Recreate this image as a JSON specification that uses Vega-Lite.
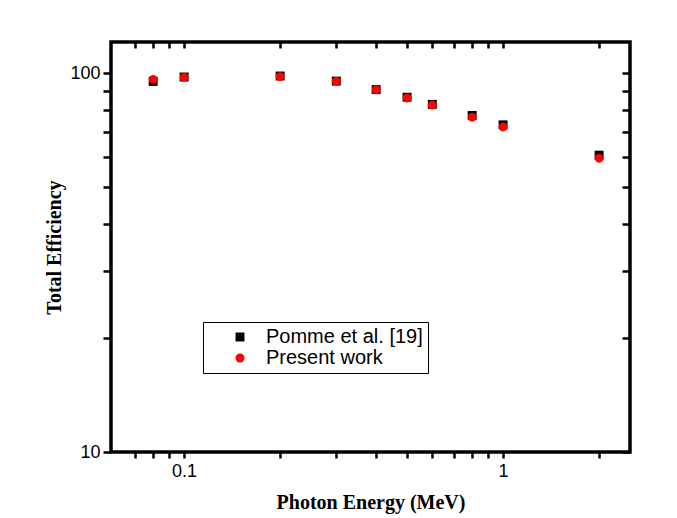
{
  "$schema": "https://vega.github.io/schema/vega-lite/v6.json",
  "width": 519,
  "height": 410,
  "autosize": {"type": "none"},
  "padding": {"left": 111, "top": 42, "right": 47, "bottom": 66},
  "background": "white",
  "config": {
    "view": {"stroke": "black", "strokeWidth": 3.5},
    "font": "Liberation Sans",
    "axis": {"domain": false, "grid": false, "tickColor": "black", "tickWidth": 2.5, "labelColor": "black", "labelFont": "Liberation Sans", "labelFontSize": 18, "titleColor": "black"}
  },
  "data": {
    "values": [
      {"energy": 0.08, "eff": 95.2, "series": "Pomme et al. [19]"},
      {"energy": 0.1, "eff": 97.8, "series": "Pomme et al. [19]"},
      {"energy": 0.2, "eff": 98.4, "series": "Pomme et al. [19]"},
      {"energy": 0.3, "eff": 95.4, "series": "Pomme et al. [19]"},
      {"energy": 0.4, "eff": 90.6, "series": "Pomme et al. [19]"},
      {"energy": 0.5, "eff": 86.5, "series": "Pomme et al. [19]"},
      {"energy": 0.6, "eff": 82.8, "series": "Pomme et al. [19]"},
      {"energy": 0.8, "eff": 77.4, "series": "Pomme et al. [19]"},
      {"energy": 1.0, "eff": 73.1, "series": "Pomme et al. [19]"},
      {"energy": 2.0, "eff": 60.8, "series": "Pomme et al. [19]"},
      {"energy": 0.08, "eff": 96.4, "series": "Present work"},
      {"energy": 0.1, "eff": 97.6, "series": "Present work"},
      {"energy": 0.2, "eff": 98.0, "series": "Present work"},
      {"energy": 0.3, "eff": 95.2, "series": "Present work"},
      {"energy": 0.4, "eff": 90.5, "series": "Present work"},
      {"energy": 0.5, "eff": 86.1, "series": "Present work"},
      {"energy": 0.6, "eff": 82.5, "series": "Present work"},
      {"energy": 0.8, "eff": 76.6, "series": "Present work"},
      {"energy": 1.0, "eff": 72.2, "series": "Present work"},
      {"energy": 2.0, "eff": 59.7, "series": "Present work"}
    ]
  },
  "resolve": {"axis": {"x": "independent", "y": "independent"}},
  "layer": [
    {
      "transform": [{"filter": "datum.series == 'Pomme et al. [19]'"}],
      "mark": {"type": "point", "filled": true, "opacity": 1, "size": 80},
      "encoding": {
        "x": {
          "field": "energy", "type": "quantitative",
          "scale": {"type": "log", "domain": [0.059, 2.5], "nice": false},
          "axis": {
            "orient": "bottom",
            "values": [0.07, 0.08, 0.09, 0.1, 0.2, 0.3, 0.4, 0.5, 0.6, 0.7, 0.8, 0.9, 1, 2],
            "format": "~g",
            "labelExpr": "datum.value == 0.1 || datum.value == 1 ? datum.label : ''",
            "labelFontSize": 18,
            "tickSize": 6, "labelPadding": 4,
            "title": "Photon Energy (MeV)", "titleFont": "Liberation Serif", "titleFontWeight": "bold", "titleFontSize": 20, "titlePadding": 12
          }
        },
        "y": {
          "field": "eff", "type": "quantitative",
          "scale": {"type": "log", "domain": [10, 121], "nice": false},
          "axis": {
            "orient": "left",
            "values": [10, 20, 30, 40, 50, 60, 70, 80, 90, 100],
            "labelExpr": "datum.value == 10 || datum.value == 100 ? datum.label : ''",
            "labelFontSize": 18,
            "tickSize": 8, "labelPadding": 3,
            "title": "Total Efficiency", "titleFont": "Liberation Serif", "titleFontWeight": "bold", "titleFontSize": 20, "titlePadding": 5
          }
        },
        "color": {
          "field": "series", "type": "nominal",
          "scale": {"domain": ["Pomme et al. [19]", "Present work"], "range": ["black", "red"]},
          "legend": {
            "orient": "none", "legendX": 92, "legendY": 280, "title": null,
            "strokeColor": "black", "padding": 5, "fillColor": "white",
            "labelFontSize": 20, "labelFont": "Liberation Sans", "labelColor": "black",
            "symbolSize": 80, "symbolOffset": 22, "labelOffset": 16, "rowPadding": 1
          }
        },
        "shape": {
          "field": "series", "type": "nominal",
          "scale": {"domain": ["Pomme et al. [19]", "Present work"], "range": ["square", "circle"]}
        }
      }
    },
    {
      "transform": [{"filter": "datum.series == 'Present work'"}],
      "mark": {"type": "point", "filled": true, "opacity": 1, "size": 80},
      "encoding": {
        "x": {
          "field": "energy", "type": "quantitative",
          "axis": {
            "orient": "top",
            "values": [0.07, 0.08, 0.09, 0.1, 0.2, 0.3, 0.4, 0.5, 0.6, 0.7, 0.8, 0.9, 1, 2],
            "labels": false, "tickSize": -6, "title": null
          }
        },
        "y": {
          "field": "eff", "type": "quantitative",
          "axis": {
            "orient": "right",
            "values": [10, 20, 30, 40, 50, 60, 70, 80, 90, 100],
            "labels": false, "tickSize": -8, "title": null
          }
        },
        "color": {"field": "series", "type": "nominal"},
        "shape": {"field": "series", "type": "nominal"}
      }
    }
  ]
}
